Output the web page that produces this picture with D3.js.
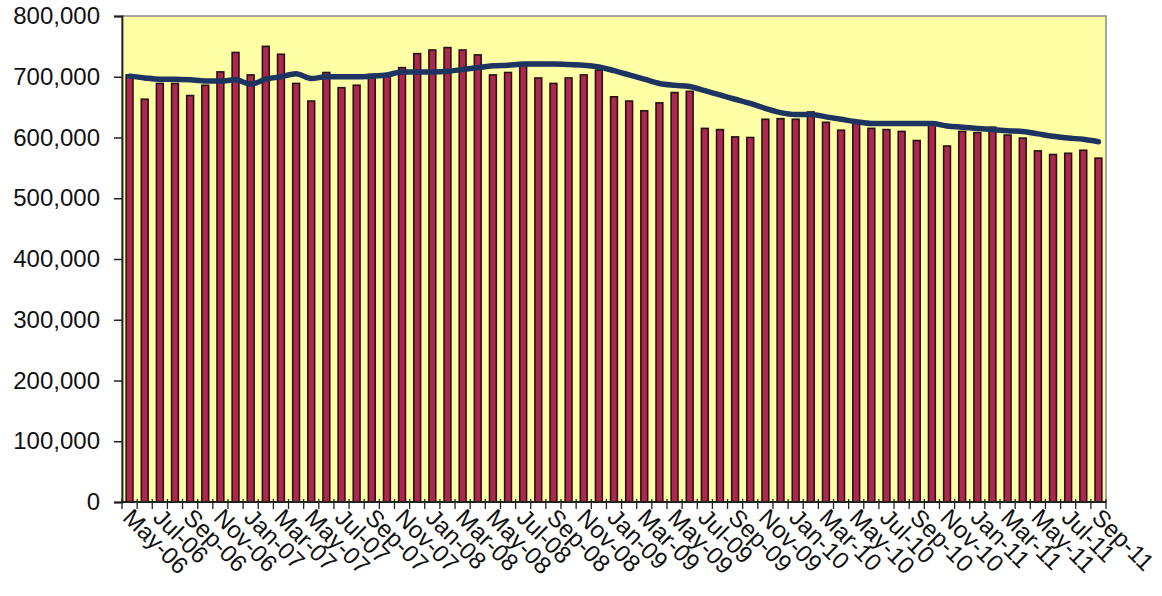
<!DOCTYPE html>
<html>
<head>
<meta charset="utf-8">
<script src="https://cdn.jsdelivr.net/npm/d3@7"></script>
<style>
  html, body { margin: 0; padding: 0; background: #ffffff; }
  svg { display: block; }
  text { font-family: "Liberation Sans", Arial, sans-serif; fill: #111; }
</style>
</head>
<body>
<svg id="chart" width="1162" height="596"></svg>
<script>
// Monthly categories, May-06 through Sep-11
const months = [
  "May-06","Jun-06","Jul-06","Aug-06","Sep-06","Oct-06","Nov-06","Dec-06",
  "Jan-07","Feb-07","Mar-07","Apr-07","May-07","Jun-07","Jul-07","Aug-07","Sep-07","Oct-07","Nov-07","Dec-07",
  "Jan-08","Feb-08","Mar-08","Apr-08","May-08","Jun-08","Jul-08","Aug-08","Sep-08","Oct-08","Nov-08","Dec-08",
  "Jan-09","Feb-09","Mar-09","Apr-09","May-09","Jun-09","Jul-09","Aug-09","Sep-09","Oct-09","Nov-09","Dec-09",
  "Jan-10","Feb-10","Mar-10","Apr-10","May-10","Jun-10","Jul-10","Aug-10","Sep-10","Oct-10","Nov-10","Dec-10",
  "Jan-11","Feb-11","Mar-11","Apr-11","May-11","Jun-11","Jul-11","Aug-11","Sep-11"
];

// Monthly totals (bars)
const monthly = [
  703000, 663000, 689000, 689000, 669000, 686000, 708000, 740000,
  703000, 750000, 737000, 689000, 660000, 707000, 682000, 686000, 704000, 703000, 715000, 738000,
  744000, 748000, 744000, 736000, 703000, 707000, 719000, 698000, 689000, 698000, 703000, 711000,
  667000, 660000, 644000, 657000, 674000, 676000, 615000, 613000, 601000, 600000, 630000, 631000,
  630000, 642000, 625000, 612000, 625000, 615000, 613000, 610000, 595000, 623000, 586000, 610000,
  608000, 617000, 604000, 599000, 578000, 572000, 574000, 579000, 566000
];

// Rolling average (line)
const rolling = [
  701000, 698000, 696000, 696000, 695000, 693000, 693000, 695000,
  688000, 696000, 700000, 705000, 697000, 700000, 700000, 700000, 701000, 703000, 708000, 708000,
  708000, 709000, 712000, 715000, 718000, 719000, 721000, 721000, 721000, 720000, 719000, 716000,
  710000, 703000, 696000, 689000, 686000, 684000, 677000, 670000, 663000, 656000, 648000, 641000,
  638000, 638000, 634000, 630000, 626000, 623000, 623000, 623000, 623000, 623000, 619000, 617000,
  615000, 613000, 611000, 610000, 606000, 602000, 599000, 597000, 593000
];

// Value axis ticks
const yTicks = [0, 100000, 200000, 300000, 400000, 500000, 600000, 700000, 800000];

const svg = d3.select("#chart");
const plot = { left: 122, right: 1106, top: 16, bottom: 502 };

const x = d3.scaleBand()
  .domain(months)
  .range([plot.left, plot.right])
  .paddingInner(0.55)
  .paddingOuter(0.275);

const y = d3.scaleLinear()
  .domain([0, 800000])
  .range([plot.bottom, plot.top]);

// Plot area background
svg.append("rect")
  .attr("x", plot.left).attr("y", plot.top)
  .attr("width", plot.right - plot.left)
  .attr("height", plot.bottom - plot.top)
  .attr("fill", "#ffffa6")
  .attr("stroke", "#8a8a8a")
  .attr("stroke-width", 1.5);

// Bars
svg.append("g").selectAll("rect")
  .data(monthly)
  .join("rect")
  .attr("x", (d, i) => x(months[i]))
  .attr("y", d => y(d))
  .attr("width", x.bandwidth())
  .attr("height", d => y(0) - y(d))
  .attr("fill", "#b0264d")
  .attr("stroke", "#241418")
  .attr("stroke-width", 1.6);

// Rolling average line
const line = d3.line()
  .x((d, i) => x(months[i]) + x.bandwidth() / 2)
  .y(d => y(d))
  .curve(d3.curveMonotoneX);

svg.append("path")
  .datum(rolling)
  .attr("d", line)
  .attr("fill", "none")
  .attr("stroke", "#1d3461")
  .attr("stroke-width", 5.5)
  .attr("stroke-linejoin", "round")
  .attr("stroke-linecap", "round");

// Value axis
const yAxis = d3.axisLeft(y)
  .tickValues(yTicks)
  .tickFormat(d3.format(","))
  .tickSize(8)
  .tickPadding(14);

const gy = svg.append("g")
  .attr("transform", `translate(${plot.left},0)`)
  .call(yAxis);
gy.select(".domain").attr("stroke", "#222").attr("stroke-width", 1.8);
gy.selectAll(".tick line").attr("stroke", "#222").attr("stroke-width", 1.5);
gy.selectAll(".tick text")
  .attr("font-size", 24)
  .attr("font-family", "'Liberation Sans', Arial, sans-serif")
  .attr("fill", "#111");

// Category axis: ticks at category boundaries
const step = x.step();
const gx = svg.append("g");
gx.append("line")
  .attr("x1", plot.left).attr("x2", plot.right)
  .attr("y1", plot.bottom).attr("y2", plot.bottom)
  .attr("stroke", "#222").attr("stroke-width", 1.8);
gx.selectAll("line.tick")
  .data(d3.range(months.length + 1))
  .join("line")
  .attr("class", "tick")
  .attr("x1", i => plot.left + i * step)
  .attr("x2", i => plot.left + i * step)
  .attr("y1", plot.bottom - 3)
  .attr("y2", plot.bottom + 7)
  .attr("stroke", "#222")
  .attr("stroke-width", 1.3);

// Every other month is labelled, rotated down to the right
gx.selectAll("text")
  .data(months.filter((m, i) => i % 2 === 0))
  .join("text")
  .attr("transform", m => `translate(${x(m) + x.bandwidth() / 2 - 8},${plot.bottom + 17}) rotate(45)`)
  .attr("text-anchor", "start")
  .attr("font-size", 24)
  .text(m => m);
</script>
</body>
</html>
